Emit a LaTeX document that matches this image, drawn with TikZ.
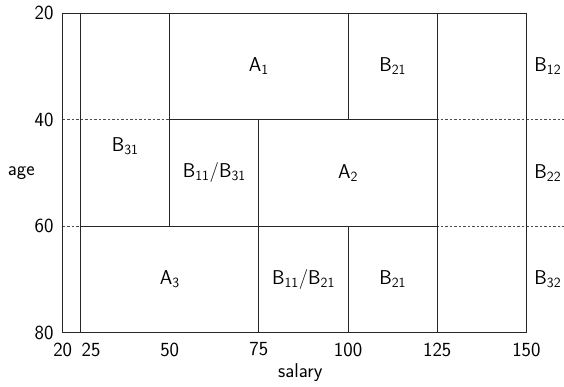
\documentclass[tikz,border=0pt]{standalone}
\begin{document}
\begin{tikzpicture}[x=3.567pt,y=-5.327pt,
  every node/.style={font=\sffamily\fontsize{20}{24}\selectfont, inner sep=0pt},
  grid/.style={line width=0.9pt, draw=black!85},
  guide/.style={line width=0.5pt, draw=black!70, dash pattern=on 2.5pt off 2pt},
  celllabel/.style={anchor=center},
  ticklabel/.style={anchor=center}]
\useasboundingbox (2.42,17.56) rectangle (160.54,90.12);
% dashed guides
\draw[guide] (20,40) -- (160.54,40);
\draw[guide] (20,60) -- (160.54,60);
% partition lines
\draw[grid] (25,20) -- (25,80);
\draw[grid] (125,20) -- (125,80);
\draw[grid] (50,20) -- (50,60);
\draw[grid] (75,40) -- (75,80);
\draw[grid] (100,20) -- (100,40);
\draw[grid] (100,60) -- (100,80);
\draw[grid] (50,40) -- (125,40);
\draw[grid] (25,60) -- (125,60);
% frame
\draw[grid] (20,20) rectangle (150,80);
% cell labels
\node[celllabel] (b31) at (37.5,45) {B\textsubscript{31}};
\node[celllabel] (a1) at (75,30) {A\textsubscript{1}};
\node[celllabel] (b21t) at (112.5,30) {B\textsubscript{21}};
\node[celllabel] (b1131) at (62.5,50) {B\textsubscript{11}/B\textsubscript{31}};
\node[celllabel] (a2) at (100,50) {A\textsubscript{2}};
\node[celllabel] (a3) at (50,70) {A\textsubscript{3}};
\node[celllabel] (b1121) at (87.5,70) {B\textsubscript{11}/B\textsubscript{21}};
\node[celllabel] (b21b) at (112.5,70) {B\textsubscript{21}};
\node[celllabel] (b12) at (156,30) {B\textsubscript{12}};
\node[celllabel] (b22) at (156,50) {B\textsubscript{22}};
\node[celllabel] (b32) at (156,70) {B\textsubscript{32}};
% y ticks
\node[anchor=east] (y20) at ([xshift=-9pt]20,20) {20};
\node[anchor=east] (y40) at ([xshift=-9pt]20,40) {40};
\node[anchor=east] (y60) at ([xshift=-9pt]20,60) {60};
\node[anchor=east] (y80) at ([xshift=-9pt]20,80) {80};
\node (age) at (8.4,50) {age};
% x ticks
\node[anchor=north] (x20) at ([yshift=-10pt]20,80) {20};
\node[anchor=north west] (x25) at ([yshift=-10pt,xshift=1pt]25,80) {25};
\node[anchor=north] (x50) at ([yshift=-10pt]50,80) {50};
\node[anchor=north] (x75) at ([yshift=-10pt]75,80) {75};
\node[anchor=north] (x100) at ([yshift=-10pt]100,80) {100};
\node[anchor=north] (x125) at ([yshift=-10pt]125,80) {125};
\node[anchor=north] (x150) at ([yshift=-10pt]150,80) {150};
\node[anchor=base] (salary) at ([yshift=-45pt]86.6,80) {salary};
\end{tikzpicture}
\end{document}
